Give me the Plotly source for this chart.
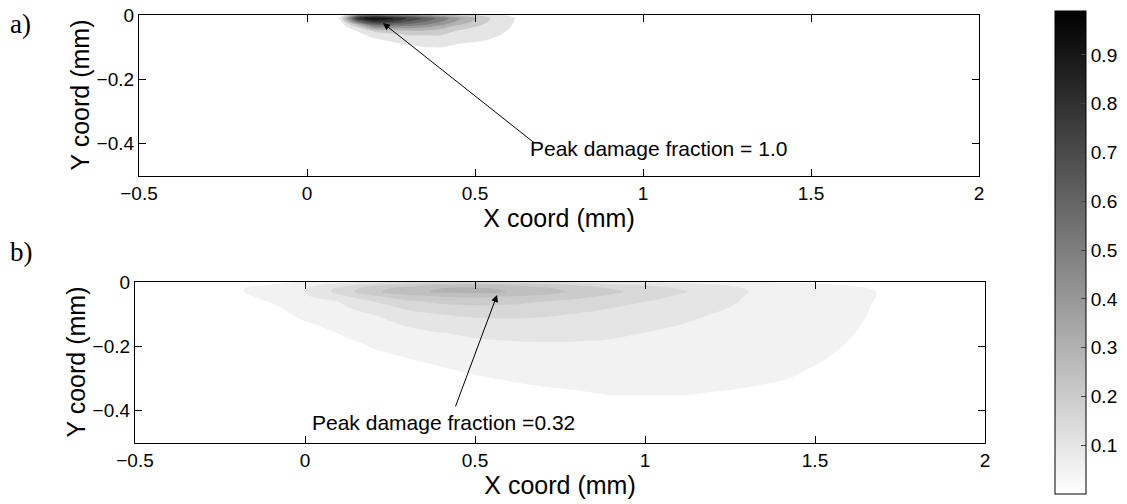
import plotly.graph_objects as go

# ---------------- data: panel a (peak damage 1.0) ----------------
a_x = [0.0, 0.05, 0.1, 0.15, 0.2, 0.25, 0.3, 0.35, 0.4, 0.45, 0.5, 0.55, 0.6, 0.65, 0.7]
a_y = [0.0, -0.01, -0.02, -0.03, -0.04, -0.05, -0.06, -0.08, -0.1, -0.12]
# damage fraction, one list per x column (values top -> bottom, same order as a_y)
a_cols = [
    [0, 0, 0, 0, 0, 0, 0, 0, 0, 0],
    [0, 0, 0, 0, 0, 0, 0, 0, 0, 0],
    [0.06, 0.12, 0.08, 0.05, 0.03, 0.02, 0.01, 0, 0, 0],
    [0.5, 0.85, 0.62, 0.31, 0.167, 0.101, 0.07, 0.03, 0.01, 0],
    [0.6, 1.0, 0.86, 0.62, 0.41, 0.21, 0.15, 0.07, 0.03, 0.01],
    [0.55, 0.92, 0.81, 0.61, 0.42, 0.26, 0.18, 0.11, 0.05, 0.015],
    [0.5, 0.79, 0.71, 0.57, 0.41, 0.28, 0.21, 0.14, 0.075, 0.02],
    [0.42, 0.68, 0.61, 0.51, 0.38, 0.28, 0.21, 0.14, 0.098, 0.03],
    [0.35, 0.56, 0.51, 0.42, 0.32, 0.25, 0.21, 0.14, 0.102, 0.03],
    [0.27, 0.42, 0.38, 0.31, 0.23, 0.19, 0.16, 0.12, 0.08, 0.02],
    [0.19, 0.302, 0.28, 0.23, 0.19, 0.16, 0.14, 0.11, 0.06, 0.01],
    [0.13, 0.19, 0.18, 0.16, 0.14, 0.13, 0.12, 0.09, 0.04, 0],
    [0.09, 0.13, 0.125, 0.115, 0.105, 0.095, 0.085, 0.05, 0.02, 0],
    [0.03, 0.05, 0.05, 0.045, 0.04, 0.035, 0.03, 0.015, 0, 0],
    [0, 0, 0, 0, 0, 0, 0, 0, 0, 0],
]
a_levels = dict(start=0.1, end=0.9, size=0.1)

# ---------------- data: panel b (peak damage 0.32) ----------------
b_x = [-0.3, -0.2, -0.1, 0.0, 0.1, 0.2, 0.3, 0.4, 0.5, 0.6, 0.7, 0.8, 0.9, 1.0,
       1.1, 1.2, 1.3, 1.4, 1.5, 1.6, 1.7, 1.8]
b_y = [0.0, -0.01, -0.02, -0.03, -0.045, -0.06, -0.08, -0.1, -0.13, -0.16,
       -0.2, -0.25, -0.3, -0.35, -0.4, -0.5]
b_cols = [
    [0.01, 0.015, 0.02, 0.02, 0.015, 0.01, 0.005, 0, 0, 0, 0, 0, 0, 0, 0, 0],
    [0.02, 0.035, 0.045, 0.045, 0.04, 0.03, 0.02, 0.01, 0.005, 0, 0, 0, 0, 0, 0, 0],
    [0.04, 0.052, 0.068, 0.07, 0.061, 0.053, 0.04, 0.03, 0.015, 0.005, 0, 0, 0, 0, 0, 0],
    [0.055, 0.08, 0.097, 0.10, 0.092, 0.085, 0.074, 0.063, 0.045, 0.03, 0.015, 0.005, 0, 0, 0, 0],
    [0.08, 0.13, 0.16, 0.165, 0.138, 0.101, 0.09, 0.08, 0.065, 0.051, 0.03, 0.012, 0.003, 0, 0, 0],
    [0.12, 0.19, 0.23, 0.24, 0.188, 0.151, 0.125, 0.101, 0.085, 0.072, 0.053, 0.03, 0.012, 0.003, 0, 0],
    [0.15, 0.23, 0.27, 0.28, 0.233, 0.192, 0.158, 0.135, 0.105, 0.088, 0.068, 0.043, 0.02, 0.006, 0, 0],
    [0.17, 0.26, 0.30, 0.31, 0.252, 0.213, 0.179, 0.151, 0.123, 0.098, 0.08, 0.057, 0.03, 0.01, 0.002, 0],
    [0.18, 0.27, 0.31, 0.32, 0.259, 0.222, 0.187, 0.161, 0.132, 0.107, 0.087, 0.066, 0.045, 0.02, 0.005, 0],
    [0.17, 0.25, 0.29, 0.298, 0.248, 0.217, 0.186, 0.162, 0.135, 0.112, 0.091, 0.072, 0.054, 0.03, 0.01, 0],
    [0.15, 0.23, 0.26, 0.27, 0.238, 0.201, 0.179, 0.157, 0.134, 0.113, 0.093, 0.076, 0.06, 0.04, 0.015, 0],
    [0.13, 0.198, 0.23, 0.24, 0.21, 0.189, 0.168, 0.148, 0.13, 0.111, 0.093, 0.078, 0.063, 0.045, 0.02, 0],
    [0.11, 0.17, 0.198, 0.21, 0.191, 0.172, 0.151, 0.139, 0.122, 0.106, 0.092, 0.078, 0.064, 0.051, 0.025, 0],
    [0.095, 0.148, 0.175, 0.18, 0.165, 0.151, 0.14, 0.129, 0.113, 0.099, 0.089, 0.076, 0.064, 0.051, 0.025, 0],
    [0.085, 0.13, 0.148, 0.155, 0.145, 0.137, 0.126, 0.116, 0.101, 0.093, 0.084, 0.073, 0.062, 0.051, 0.025, 0],
    [0.07, 0.11, 0.127, 0.13, 0.123, 0.116, 0.107, 0.099, 0.093, 0.087, 0.079, 0.069, 0.059, 0.048, 0.02, 0],
    [0.06, 0.085, 0.098, 0.101, 0.0975, 0.095, 0.092, 0.0885, 0.084, 0.079, 0.072, 0.064, 0.056, 0.045, 0.018, 0],
    [0.045, 0.07, 0.082, 0.085, 0.083, 0.082, 0.079, 0.077, 0.074, 0.071, 0.066, 0.061, 0.053, 0.03, 0.01, 0],
    [0.04, 0.06, 0.07, 0.072, 0.071, 0.07, 0.068, 0.066, 0.064, 0.061, 0.058, 0.052, 0.04, 0.02, 0.005, 0],
    [0.03, 0.048, 0.06, 0.062, 0.061, 0.06, 0.058, 0.057, 0.054, 0.052, 0.048, 0.04, 0.025, 0.01, 0, 0],
    [0.02, 0.035, 0.044, 0.047, 0.047, 0.046, 0.045, 0.044, 0.043, 0.04, 0.035, 0.025, 0.015, 0.005, 0, 0],
    [0.01, 0.015, 0.02, 0.02, 0.02, 0.02, 0.02, 0.02, 0.015, 0.01, 0.01, 0.005, 0, 0, 0, 0],
]
b_levels = dict(start=0.05, end=0.3, size=0.05)

# colour axis of the figure (white -> black)
c_min, c_max = 0.0, 0.99
cbar_ticks = [0.1, 0.2, 0.3, 0.4, 0.5, 0.6, 0.7, 0.8, 0.9]

x_ticks = [-0.5, 0, 0.5, 1, 1.5, 2]
y_ticks = [0, -0.2, -0.4]

# ---------------- helpers ----------------
def gray(v):
    g = int(round(255 * (1 - (v - c_min) / (c_max - c_min))))
    g = max(0, min(255, g))
    return f"rgb({g},{g},{g})"


def band_scale(lv):
    # each filled band gets the colour of its lower level (like contourf)
    n = int(round((lv["end"] - lv["start"]) / lv["size"])) + 1
    sc = [[0.0, "rgb(255,255,255)"]]
    for k in range(n):
        level = lv["start"] + k * lv["size"]
        sc.append([(k + 1) / n, gray(level)])
    return sc


def rows(cols):
    return [list(r) for r in zip(*cols)]


# the page margin is removed (see post_script), so the figure fills the window
W, H = 1127, 504

# target boxes in window pixels
A_box = dict(l=139, r=979, t=15, b=176)
B_box = dict(l=135, r=985, t=282, b=443)
CB_box = dict(l=1055, r=1086, t=11, b=494)


def px(xw):
    return xw / W


def py(yw):
    return 1 - yw / H


def dom(box):
    return [px(box["l"]), px(box["r"])], [py(box["b"]), py(box["t"])]


fig = go.Figure()

fig.add_trace(go.Contour(
    x=a_x, y=a_y, z=rows(a_cols), xaxis="x", yaxis="y",
    autocontour=False, contours=dict(coloring="fill", showlines=False, **a_levels),
    colorscale=band_scale(a_levels), showscale=False, line=dict(width=0, smoothing=1),
    hoverinfo="skip"))

fig.add_trace(go.Contour(
    x=b_x, y=b_y, z=rows(b_cols), xaxis="x2", yaxis="y2",
    autocontour=False, contours=dict(coloring="fill", showlines=False, **b_levels),
    colorscale=band_scale(b_levels), showscale=False, line=dict(width=0, smoothing=1),
    hoverinfo="skip"))

# colour bar carrier (points lie outside the axis ranges)
fig.add_trace(go.Scatter(
    x=[-5, -5], y=[5, 5], xaxis="x", yaxis="y", mode="markers",
    marker=dict(color=[c_min, c_max], cmin=c_min, cmax=c_max,
                colorscale=[[0, "rgb(255,255,255)"], [1, "rgb(0,0,0)"]],
                showscale=True,
                colorbar=dict(
                    xref="container", yref="container", x=px(CB_box["l"]), xanchor="left",
                    y=py(CB_box["b"]), yanchor="bottom", lenmode="pixels",
                    len=CB_box["b"] - CB_box["t"],
                    thickness=CB_box["r"] - CB_box["l"], thicknessmode="pixels", xpad=0, ypad=0,
                    outlinewidth=1, outlinecolor="black",
                    tickvals=cbar_ticks, ticks="inside", ticklen=5, tickcolor="#444",
                    tickfont=dict(family="Liberation Sans, Arial", size=19, color="black"))),
    showlegend=False, hoverinfo="skip"))

font = "Liberation Sans, Arial, sans-serif"
axis_common = dict(showline=True, linecolor="black", linewidth=1.3, mirror="allticks",
                   ticks="inside", ticklen=7, tickcolor="black", showgrid=False,
                   zeroline=False, automargin=False, ticklabeloverflow="allow",
                   tickfont=dict(family=font, size=19, color="black"))
title_font = dict(family=font, size=25, color="black")

ax_dom, ay_dom = dom(A_box)
bx_dom, by_dom = dom(B_box)

fig.update_layout(
    width=W, height=H, margin=dict(l=0, r=0, t=0, b=0, autoexpand=False),
    paper_bgcolor="white", plot_bgcolor="white", showlegend=False,
    xaxis=dict(domain=ax_dom, range=[-0.5, 2], tickvals=x_ticks, anchor="y",
               title=dict(text="X coord (mm)", standoff=0, font=title_font), **axis_common),
    yaxis=dict(domain=ay_dom, range=[-0.5, 0], tickvals=y_ticks, anchor="x", **axis_common),
    xaxis2=dict(domain=bx_dom, range=[-0.5, 2], tickvals=x_ticks, anchor="y2",
                title=dict(text="X coord (mm)", standoff=0, font=title_font), **axis_common),
    yaxis2=dict(domain=by_dom, range=[-0.5, 0], tickvals=y_ticks, anchor="x2", **axis_common),
)

# y axis titles (placed as rotated texts next to the tick labels)
fig.add_annotation(x=px(79), y=py((A_box["t"] + A_box["b"]) / 2), xref="paper", yref="paper",
                   text="Y coord (mm)", textangle=-90, showarrow=False,
                   xanchor="center", yanchor="middle", font=title_font)
fig.add_annotation(x=px(75), y=py((B_box["t"] + B_box["b"]) / 2), xref="paper", yref="paper",
                   text="Y coord (mm)", textangle=-90, showarrow=False,
                   xanchor="center", yanchor="middle", font=title_font)

# arrows and annotation texts
ann_font = dict(family=font, size=21, color="black")
fig.add_annotation(x=0.226, y=-0.025, ax=0.68, ay=-0.40, xref="x", yref="y",
                   axref="x", ayref="y", text="", showarrow=True, arrowhead=2,
                   arrowsize=1.4, arrowwidth=1, arrowcolor="black")
fig.add_annotation(x=0.658, y=-0.415, xref="x", yref="y", text="Peak damage fraction = 1.0",
                   showarrow=False, xanchor="left", yanchor="middle", font=ann_font)
fig.add_annotation(x=0.565, y=-0.04, ax=0.441, ay=-0.391, xref="x2", yref="y2",
                   axref="x2", ayref="y2", text="", showarrow=True, arrowhead=2,
                   arrowsize=1.4, arrowwidth=1, arrowcolor="black")
fig.add_annotation(x=0.015, y=-0.435, xref="x2", yref="y2", text="Peak damage fraction =0.32",
                   showarrow=False, xanchor="left", yanchor="middle", font=ann_font)

# panel letters
letter_font = dict(family="Liberation Serif, Times New Roman, serif", size=27, color="black")
fig.add_annotation(x=px(8), y=py(7), xref="paper", yref="paper", text="a)",
                   showarrow=False, xanchor="left", yanchor="top", font=letter_font)
fig.add_annotation(x=px(8), y=py(235), xref="paper", yref="paper", text="b)",
                   showarrow=False, xanchor="left", yanchor="top", font=letter_font)

fig.write_html("out.html",
               config={"displayModeBar": False},
               post_script="document.body.style.margin='0';document.body.style.overflow='hidden';")
